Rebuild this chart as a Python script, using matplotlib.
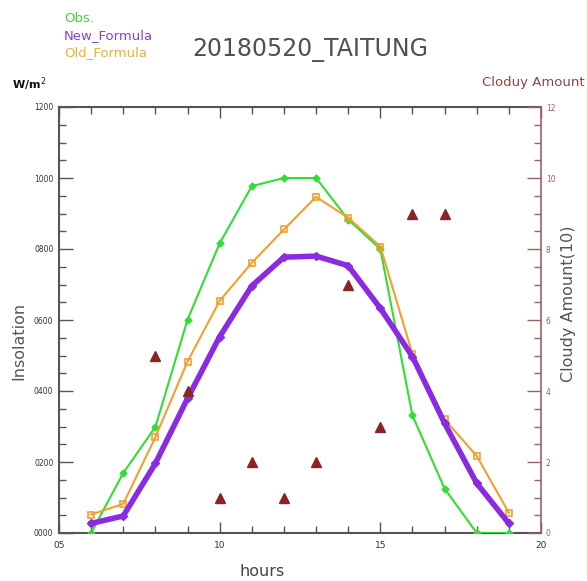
import matplotlib
matplotlib.use("Agg")
import matplotlib.pyplot as plt
from matplotlib.ticker import MultipleLocator, FuncFormatter

hours = [6, 7, 8, 9, 10, 11, 12, 13, 14, 15, 16, 17, 18, 19]
obs = [0, 169, 299, 601, 816, 977, 1000, 1000, 883, 800, 331, 125, 0, 0]
new_formula = [27, 48, 196, 379, 553, 696, 777, 780, 753, 633, 497, 309, 140, 27]
old_formula = [52, 82, 270, 483, 654, 761, 855, 947, 888, 807, 504, 320, 217, 57]
cloud_hours = [8, 9, 10, 11, 12, 13, 14, 15, 16, 17]
cloud_amount = [5, 4, 1, 2, 1, 2, 7, 3, 9, 9]

title = "20180520_TAITUNG"

W, H = 587, 581
fig = plt.figure(figsize=(W / 100, H / 100), dpi=100)
ax = fig.add_axes([59 / W, 1 - 533 / H, (541 - 59) / W, (533 - 107) / H])
ax2 = ax.twinx()

green = "#33dd33"
purple = "#8a2be2"
orange = "#f0a030"
brown = "#8b2525"
frame = "#555555"
rbrown = "#a06060"

ax.plot(hours, obs, color=green, lw=1.5, marker="D", ms=3.5, zorder=3)
ax.plot(hours, old_formula, color=orange, lw=1.5, marker="s", ms=5,
        mfc="none", mec=orange, mew=1.2, zorder=4)
ax.plot(hours, new_formula, color=purple, lw=4, marker="D", ms=4, zorder=5)
ax2.plot(cloud_hours, cloud_amount, ls="none", marker="^", ms=6.5,
         color=brown, mec=brown)

ax.set_xlim(5, 20)
ax.set_ylim(0, 1200)
ax2.set_ylim(0, 12)

ax.xaxis.set_major_locator(MultipleLocator(5))
ax.xaxis.set_minor_locator(MultipleLocator(1))
ax.yaxis.set_major_locator(MultipleLocator(200))
ax.yaxis.set_minor_locator(MultipleLocator(50))
ax2.yaxis.set_major_locator(MultipleLocator(2))
ax2.yaxis.set_minor_locator(MultipleLocator(0.5))

ax.xaxis.set_major_formatter(FuncFormatter(lambda v, p: "%02d" % int(round(v))))
ax.yaxis.set_major_formatter(FuncFormatter(lambda v, p: "%04d" % int(round(v))))
ax2.yaxis.set_major_formatter(FuncFormatter(lambda v, p: "%d" % int(round(v))))

ax.tick_params(axis="x", which="both", direction="in", top=True, bottom=True,
               colors=frame, labelsize=6.5, pad=6, labelcolor="#333333")
ax.tick_params(axis="x", which="major", length=8, width=1)
ax.tick_params(axis="x", which="minor", length=5, width=1)
ax.tick_params(axis="y", which="both", direction="in", left=True, right=False,
               colors=frame, labelsize=5.5, labelcolor="#333333", pad=4)
ax.tick_params(axis="y", which="major", length=10, width=1)
ax.tick_params(axis="y", which="minor", length=5, width=1)

ax2.tick_params(axis="y", which="both", direction="in", colors=rbrown,
                labelsize=5.5, labelcolor=rbrown)
ax2.tick_params(axis="y", which="major", length=10, width=1)
ax2.tick_params(axis="y", which="minor", length=5, width=1)

for s in ["left", "bottom", "top"]:
    ax.spines[s].set_color(frame)
    ax.spines[s].set_linewidth(1.5)
ax2.spines["right"].set_color(rbrown)
ax2.spines["right"].set_linewidth(1.2)
for s in ["left", "bottom", "top"]:
    ax2.spines[s].set_visible(False)
ax.spines["right"].set_visible(False)

def fx(x):
    return x / W

def fy(y):
    return 1 - y / H

fig.text(fx(310), fy(50), title, ha="center", va="center", fontsize=17, color="#505050")
fig.text(fx(64), fy(19), "Obs.", ha="left", va="center", fontsize=9.5, color="#44cc44")
fig.text(fx(64), fy(36), "New_Formula", ha="left", va="center", fontsize=9.5, color="#9040c8")
fig.text(fx(64), fy(53), "Old_Formula", ha="left", va="center", fontsize=9.5, color="#e8b040")
fig.text(fx(12), fy(84), "W/m$^{2}$", ha="left", va="center", fontsize=8, fontweight="bold", color="#111111")
fig.text(fx(585), fy(83), "Cloduy Amount", ha="right", va="center", fontsize=9.5, color="#8b4545")
fig.text(fx(19), fy(341), "Insolation", ha="center", va="center", rotation=90, fontsize=11.5, color="#555555")
fig.text(fx(568), fy(304), "Cloudy Amount(10)", ha="center", va="center", rotation=90, fontsize=11.5, color="#555555")
fig.text(fx(262), fy(572), "hours", ha="center", va="center", fontsize=11.5, color="#444444")

fig.savefig("out.png", dpi=100)
